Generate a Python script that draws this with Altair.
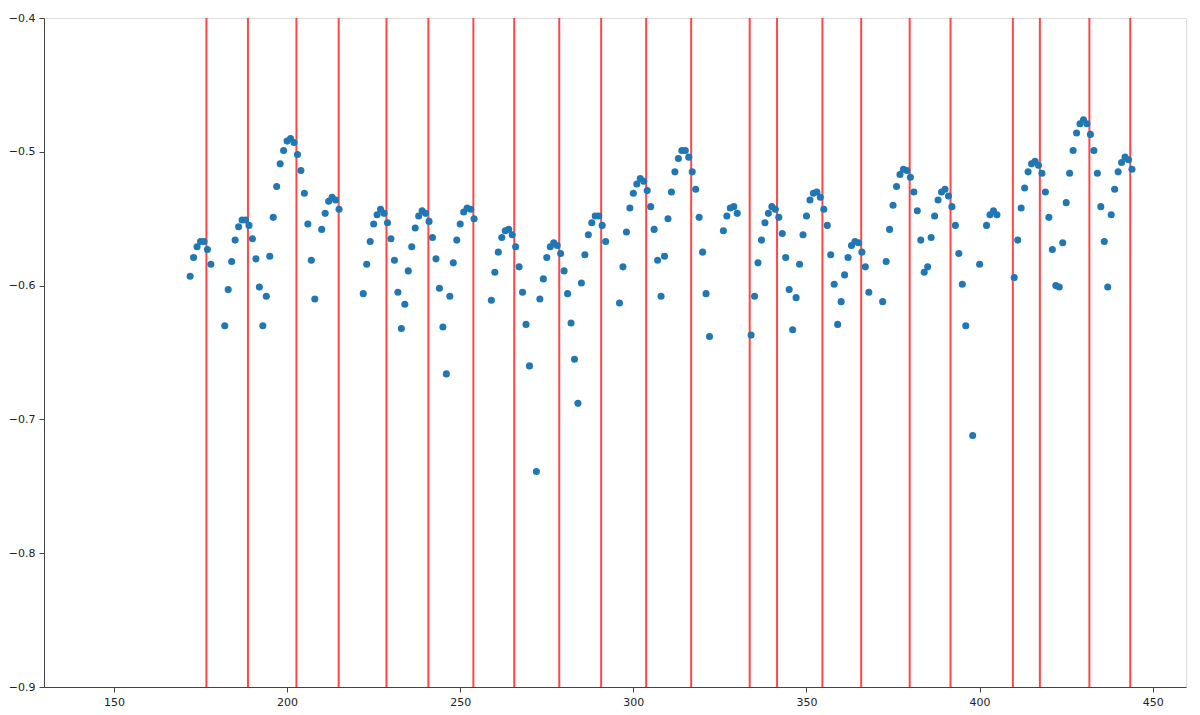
import altair as alt
import pandas as pd

x_vals = [172,173,174,175,176,177,178,182,183,184,185,186,187,188,189,190,191,192,193,194,195,196,197,198,199,200,
          201,202,203,204,205,206,207,208,210,211,212,213,214,215,
          222,223,224,225,226,227,228,229,230,231,232,233,234,235,236,237,238,239,240,241,242,243,244,245,246,247,
          248,249,250,251,252,253,254,
          259,260,261,262,263,264,265,266,267,268,269,270,272,273,274,275,276,277,278,279,280,281,282,283,284,285,
          286,287,288,289,290,291,292,
          296,297,298,299,300,301,302,303,304,305,306,307,308,309,310,311,312,313,314,315,316,317,318,319,320,321,322,
          326,327,328,329,330,
          334,335,336,337,338,339,340,341,342,343,344,345,346,347,348,349,350,351,352,353,354,355,356,357,358,359,
          360,361,362,363,364,365,366,367,368,
          372,373,374,375,376,377,378,379,380,381,382,383,384,385,386,387,388,389,390,391,392,393,394,395,396,
          398,400,402,403,404,405,
          410,411,412,413,414,415,416,417,418,419,420,421,422,423,424,425,426,427,428,429,430,431,432,433,434,435,
          436,437,438,439,440,441,442,443,444]

y_vals = [-0.593,-0.579,-0.571,-0.567,-0.567,-0.573,-0.584,-0.630,-0.603,-0.582,-0.566,-0.556,-0.551,-0.551,-0.555,
          -0.565,-0.580,-0.601,-0.630,-0.608,-0.578,-0.549,-0.526,-0.509,-0.499,-0.492,
          -0.490,-0.493,-0.502,-0.514,-0.531,-0.554,-0.581,-0.610,-0.558,-0.546,-0.537,-0.534,-0.536,-0.543,
          -0.606,-0.584,-0.567,-0.554,-0.547,-0.543,-0.546,-0.553,-0.565,-0.581,-0.605,-0.632,-0.614,-0.589,-0.571,
          -0.557,-0.548,-0.544,-0.546,-0.552,-0.564,-0.580,-0.602,-0.631,-0.666,-0.608,
          -0.583,-0.566,-0.554,-0.545,-0.542,-0.543,-0.550,
          -0.611,-0.590,-0.575,-0.564,-0.559,-0.558,-0.562,-0.571,-0.586,-0.605,-0.629,-0.660,-0.739,-0.610,-0.595,
          -0.579,-0.571,-0.568,-0.570,-0.576,-0.589,-0.606,-0.628,-0.655,-0.688,-0.598,
          -0.577,-0.562,-0.553,-0.548,-0.548,-0.555,-0.567,
          -0.613,-0.586,-0.560,-0.542,-0.531,-0.524,-0.520,-0.522,-0.529,-0.541,-0.558,-0.581,-0.608,-0.578,-0.550,
          -0.530,-0.515,-0.505,-0.499,-0.499,-0.504,-0.515,-0.528,-0.549,-0.575,-0.606,-0.638,
          -0.559,-0.548,-0.542,-0.541,-0.546,
          -0.637,-0.608,-0.583,-0.566,-0.553,-0.546,-0.541,-0.543,-0.549,-0.561,-0.579,-0.603,-0.633,-0.609,-0.584,
          -0.562,-0.548,-0.536,-0.531,-0.530,-0.534,-0.543,-0.555,-0.577,-0.599,-0.629,
          -0.612,-0.592,-0.579,-0.570,-0.567,-0.568,-0.575,-0.586,-0.605,
          -0.612,-0.582,-0.558,-0.540,-0.526,-0.517,-0.513,-0.514,-0.519,-0.530,-0.544,-0.566,-0.590,-0.586,-0.564,
          -0.548,-0.536,-0.530,-0.528,-0.533,-0.541,-0.555,-0.576,-0.599,-0.630,
          -0.712,-0.584,-0.555,-0.547,-0.544,-0.547,
          -0.594,-0.566,-0.542,-0.527,-0.515,-0.509,-0.507,-0.510,-0.516,-0.530,-0.549,-0.573,-0.600,-0.601,-0.568,
          -0.538,-0.516,-0.499,-0.486,-0.479,-0.476,-0.479,-0.487,-0.499,-0.516,-0.541,
          -0.567,-0.601,-0.547,-0.528,-0.515,-0.508,-0.504,-0.506,-0.513]

line_x = [176.7, 188.7, 202.7, 214.9, 228.7, 240.8, 253.8, 265.6, 278.6, 290.7, 303.7,
          316.7, 333.6, 341.5, 354.6, 365.8, 379.8, 391.6, 409.6, 417.4, 431.7, 443.5]

x_ticks = [150, 200, 250, 300, 350, 400, 450]
y_ticks = [-0.9, -0.8, -0.7, -0.6, -0.5, -0.4]

pts = pd.DataFrame({"x": x_vals, "y": y_vals})
lines = pd.DataFrame({"x": line_x})

xscale = alt.Scale(domain=[129.8, 459.6], nice=False, zero=False)
yscale = alt.Scale(domain=[-0.9, -0.4], nice=False, zero=False)

axis_color = "#444"
xaxis = alt.Axis(values=x_ticks, title=None, grid=False, format="d", labelFont="DejaVu Sans",
                 labelFontSize=11, labelColor="#222", tickColor=axis_color, domainColor=axis_color,
                 tickSize=5, labelPadding=4)
yaxis = alt.Axis(values=y_ticks, title=None, grid=False, format=".1f", labelFont="DejaVu Sans",
                 labelFontSize=11, labelColor="#222", tickColor=axis_color, domainColor=axis_color,
                 tickSize=5, labelPadding=4,
                 labelExpr="replace(datum.label, '-', '\u2212')")

rules = alt.Chart(lines).mark_rule(color="#ff0000", opacity=0.72, strokeWidth=2).encode(
    x=alt.X("x:Q", scale=xscale, axis=xaxis)
)

points = alt.Chart(pts).mark_circle(color="#1f77b4", opacity=1, size=50).encode(
    x=alt.X("x:Q", scale=xscale, axis=xaxis),
    y=alt.Y("y:Q", scale=yscale, axis=yaxis),
)

chart = (rules + points).properties(
    width=1142, height=669,
    padding={"left": 44, "top": 18, "right": 14, "bottom": 28},
    autosize="none",
).configure_view(stroke=axis_color, strokeWidth=1).configure(background="white")

chart.save("out.html", embed_options={"renderer": "svg", "actions": False})
